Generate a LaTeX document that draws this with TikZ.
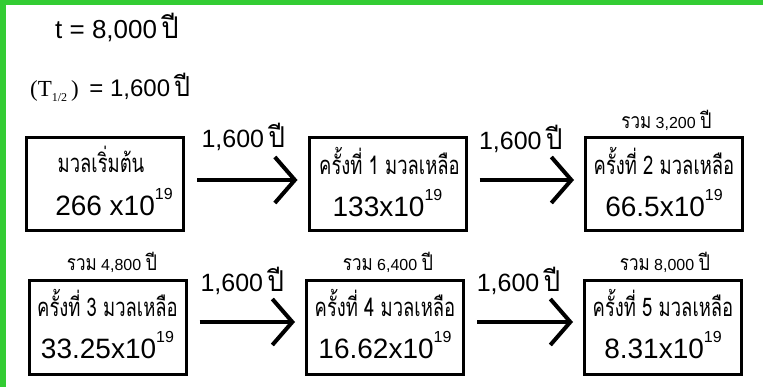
\documentclass[tikz,border=0pt]{standalone}
\usepackage{fontspec}
\setmainfont{Liberation Sans}
\newfontfamily\thaifont[Script=Thai]{Loma}
\newfontfamily\serifont{Liberation Serif}
\usetikzlibrary{arrows.meta,calc}
\definecolor{framegreen}{RGB}{51,204,51}
% raised exponent that does not change the line height
\newcommand{\expo}[1]{\raisebox{16pt}[0pt][0pt]{\fontsize{16}{16}\selectfont #1}}
% the Thai word for "years", set close after the number
\newcommand{\pee}{\,\scalebox{1.05}[1.15]{\thaifont ปี}}
% Thai line inside a box: a narrower, taller setting
\newcommand{\thaibox}[1]{\scalebox{0.97}[1.35]{\thaifont #1}}
\newcommand{\ruam}[1]{\scalebox{1}[1.25]{\thaifont\fontsize{17}{20}\selectfont รวม} #1\ \scalebox{1}[1.2]{\thaifont\fontsize{18}{20}\selectfont ปี}}
\tikzset{
  box/.style={draw, line width=3pt, minimum width=157pt, minimum height=93pt, inner sep=0pt},
  thailine/.style={font=\fontsize{19}{22}\selectfont, inner sep=0pt, anchor=base},
  numline/.style={font=\fontsize{28}{30}\selectfont, inner sep=0pt, anchor=base},
  steplabel/.style={font=\fontsize{25}{27}\selectfont, inner sep=0pt, anchor=base},
  sumlabel/.style={font=\fontsize{16}{18}\selectfont, inner sep=0pt, anchor=base},
  arr/.style={line width=4pt, -{Straight Barb[length=20pt,width=46pt]}, shorten <=12pt, shorten >=10pt}
}
\begin{document}
\begin{tikzpicture}[x=1pt,y=-1pt]
\useasboundingbox (0,0) rectangle (763,387);
% green frame strips along the top and left edges
\fill[framegreen] (0,0) rectangle (763,5);
\fill[framegreen] (0,0) rectangle (6,387);

% given values
\node[font=\fontsize{26}{28}\selectfont, inner sep=0pt, anchor=base west] (tval) at (55,39) {t = 8,000\pee};
\node[font=\fontsize{24}{27}\selectfont, inner sep=0pt, anchor=base west] (half) at (30,97)
  {{\serifont\fontsize{23}{26}\selectfont (T\raisebox{-5pt}{\fontsize{12}{12}\selectfont 1/2}\,)}\,{} = 1,600\pee};

% boxes
\node[box] (b1) at (105,184) {};
\node[box] (b2) at (387.5,184) {};
\node[box] (b3) at (664,184) {};
\node[box] (b4) at (107.5,327.5) {};
\node[box] (b5) at (385,327.5) {};
\node[box] (b6) at (663,327.5) {};

% box contents
\node[thailine] (b1a) at ($(b1.north)+(-4,37)$) {\thaibox{มวลเริ่มต้น}};
\node[numline]  (b1b) at ($(b1.north)+(9,80)$) {266 x10\expo{19}};
\node[thailine] (b2a) at ($(b2.north)+(2,39)$) {\thaibox{ครั้งที่ 1 มวลเหลือ}};
\node[numline]  (b2b) at ($(b2.north)+(0,81)$) {133x10\expo{19}};
\node[thailine] (b3a) at ($(b3.north)+(0,39)$) {\thaibox{ครั้งที่ 2 มวลเหลือ}};
\node[numline]  (b3b) at ($(b3.north)+(0,81)$) {66.5x10\expo{19}};
\node[thailine] (b4a) at ($(b4.north)+(0,37)$) {\thaibox{ครั้งที่ 3 มวลเหลือ}};
\node[numline]  (b4b) at ($(b4.north)+(0,79)$) {33.25x10\expo{19}};
\node[thailine] (b5a) at ($(b5.north)+(0,37)$) {\thaibox{ครั้งที่ 4 มวลเหลือ}};
\node[numline]  (b5b) at ($(b5.north)+(0,79)$) {16.62x10\expo{19}};
\node[thailine] (b6a) at ($(b6.north)+(0,37)$) {\thaibox{ครั้งที่ 5 มวลเหลือ}};
\node[numline]  (b6b) at ($(b6.north)+(0,79)$) {8.31x10\expo{19}};

% running totals above the boxes
\node[sumlabel] (s3) at ($(b3.north)+(2.5,-7.5)$) {\ruam{3,200}};
\node[sumlabel] (s4) at ($(b4.north)+(4.5,-9)$) {\ruam{4,800}};
\node[sumlabel] (s5) at ($(b5.north)+(3,-9)$) {\ruam{6,400}};
\node[sumlabel] (s6) at ($(b6.north)+(2,-9)$) {\ruam{8,000}};

% arrows with the half-life step
\draw[arr] ($(b1.east)+(0,-4)$) -- ($(b2.west)+(0,-4)$) node[steplabel, midway, yshift=32pt, xshift=-3pt] (l1) {1,600\pee};
\draw[arr] ($(b2.east)+(0,-4)$) -- ($(b3.west)+(0,-4)$) node[steplabel, midway, yshift=30pt, xshift=-5pt] (l2) {1,600\pee};
\draw[arr] ($(b4.east)+(0,-5.5)$) -- ($(b5.west)+(0,-5.5)$) node[steplabel, midway, yshift=30pt, xshift=-4pt] (l3) {1,600\pee};
\draw[arr] ($(b5.east)+(0,-5.5)$) -- ($(b6.west)+(0,-5.5)$) node[steplabel, midway, yshift=30pt, xshift=-5.5pt] (l4) {1,600\pee};
\end{tikzpicture}
\end{document}
